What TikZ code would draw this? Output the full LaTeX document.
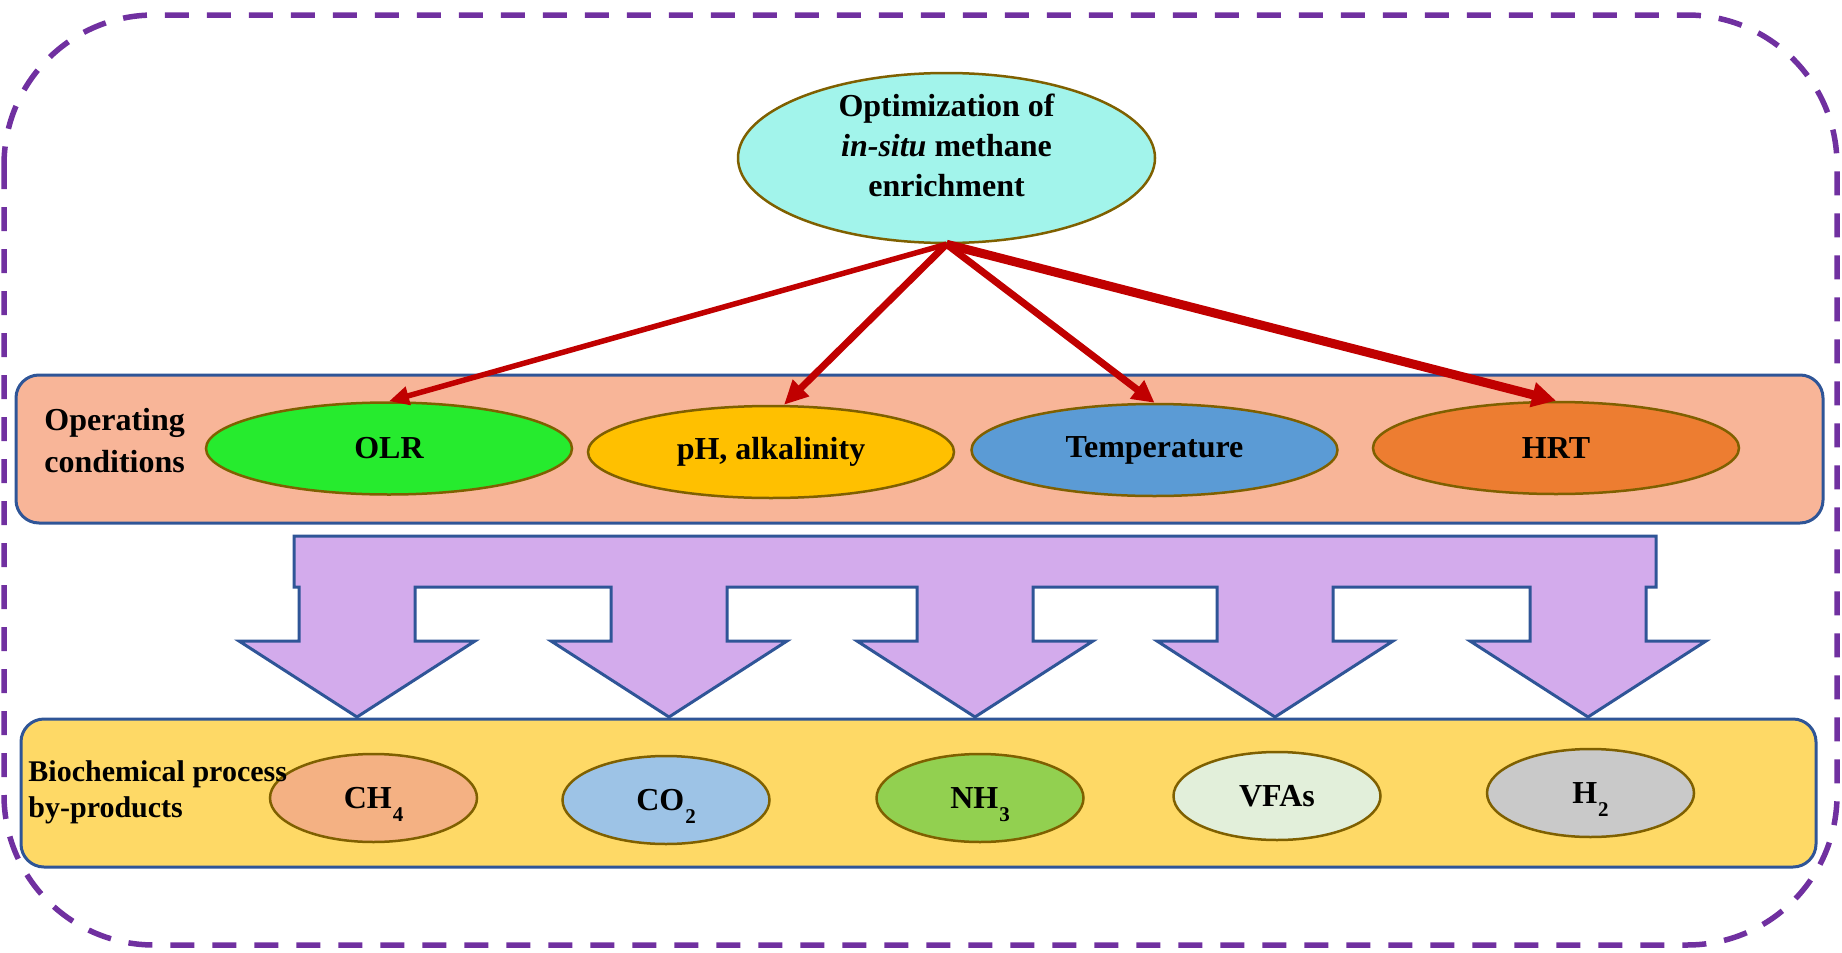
\documentclass[tikz,border=0pt]{standalone}
\usepackage{fontspec}
\setmainfont{Liberation Serif}
\usetikzlibrary{arrows.meta,shapes.geometric}
\definecolor{framepurple}{HTML}{7030A0}
\definecolor{bandblue}{HTML}{2F5597}
\definecolor{ovalbrown}{HTML}{7F6000}
\definecolor{arrowred}{HTML}{C00000}
\definecolor{topcyan}{HTML}{A2F4EB}
\definecolor{opfill}{HTML}{F8B598}
\definecolor{olrgreen}{HTML}{26EB2E}
\definecolor{phyellow}{HTML}{FFC000}
\definecolor{tempblue}{HTML}{5B9BD5}
\definecolor{hrtorange}{HTML}{ED7D31}
\definecolor{lavender}{HTML}{D3ABEC}
\definecolor{biofill}{HTML}{FED966}
\definecolor{chfill}{HTML}{F4B183}
\definecolor{cofill}{HTML}{9DC3E6}
\definecolor{nhfill}{HTML}{92D050}
\definecolor{vfafill}{HTML}{E2EFDA}
\definecolor{hfill}{HTML}{C9C9C9}
\newcommand\chemsub[1]{\smash{\raisebox{-6.5pt}{\fontsize{10.5}{10.5}\selectfont #1}}}
\tikzset{
  outerframe/.style={draw=framepurple, line width=2.75pt, dash pattern=on 12pt off 9pt, rounded corners=75pt},
  band/.style={rectangle, draw=bandblue, line width=1.5pt, rounded corners=11.5pt, inner sep=0pt},
  oval/.style={ellipse, draw=ovalbrown, line width=1.25pt, inner sep=0pt, font=\bfseries\fontsize{16}{20}\selectfont},
  opoval/.style={oval, minimum width=183pt, minimum height=46pt},
  byoval/.style={oval, minimum width=103.5pt, minimum height=44pt},
  redline/.style={draw=arrowred, line cap=butt},
  bigarrow/.style={draw=bandblue, fill=lavender, line width=1.5pt, line join=miter},
  sidelabel/.style={inner sep=0pt, align=left, anchor=west, font=\bfseries\fontsize{16}{21}\selectfont},
  sidelabelsmall/.style={inner sep=0pt, align=left, anchor=west, font=\bfseries\fontsize{15}{18}\selectfont}
}
\begin{document}
\begin{tikzpicture}[x=0.5pt,y=-0.5pt]
\useasboundingbox (0,0) rectangle (1842,953);
% outer dashed frame
\draw[outerframe] (4,15) rectangle (1837,945);

% top ellipse
\node[oval, fill=topcyan, minimum width=208.5pt, minimum height=85pt] (top) at (946.5,158) {};
\node[inner sep=0pt, align=center, font=\bfseries\fontsize{16}{20}\selectfont] (toptext) at (946.5,145) {Optimization of\\\textit{in-situ} methane\\enrichment};

% operating conditions band
\node[band, fill=opfill, minimum width=903.5pt, minimum height=74pt] (opbox) at (919.5,449) {};
\node[opoval, fill=olrgreen] (olr) at (389,448.5) {OLR};
\node[opoval, fill=phyellow] (ph) at (771,452) {pH, alkalinity};
\node[opoval, fill=tempblue] (temp) at (1154.5,450) {Temperature};
\node[opoval, fill=hrtorange] (hrt) at (1556,448) {HRT};
\node[sidelabel] (optext) at (44,441) {Operating\\conditions};

% red arrows
\draw[redline, line width=2.75pt, -{Triangle[length=10pt,width=9pt]}] (top.south) -- (olr.north);
\draw[redline, line width=3.5pt, -{Triangle[length=12pt,width=11pt]}] (top.south) -- ([xshift=6.5pt]ph.north);
\draw[redline, line width=3.5pt, -{Triangle[length=11pt,width=11pt]}] (top.south) -- (temp.north);
\draw[redline, line width=4.5pt, -{Triangle[length=12pt,width=12pt]}] (top.south) -- (hrt.north);

% big lavender distribution arrow
\draw[bigarrow] (294,536) -- (1656,536) -- (1656,587) -- (1646,587)
  -- (1646,641) -- (1706,641) -- (1588,717) -- (1470,641) -- (1530,641) -- (1530,587)
  -- (1333,587) -- (1333,641) -- (1393,641) -- (1275,717) -- (1157,641) -- (1217,641) -- (1217,587)
  -- (1033,587) -- (1033,641) -- (1093,641) -- (975,717) -- (857,641) -- (917,641) -- (917,587)
  -- (727,587) -- (727,641) -- (787,641) -- (669,717) -- (551,641) -- (611,641) -- (611,587)
  -- (415,587) -- (415,641) -- (475,641) -- (357,717) -- (239,641) -- (299,641) -- (299,587)
  -- (294,587) -- cycle;

% by-products band
\node[band, fill=biofill, minimum width=897.5pt, minimum height=74pt] (biobox) at (918.5,793) {};
\node[byoval, fill=chfill] (ch4) at (373.5,798) {CH\kern0.5pt\chemsub{4}};
\node[byoval, fill=cofill] (co2) at (666,800) {CO\kern0.5pt\chemsub{2}};
\node[byoval, fill=nhfill] (nh3) at (980,798) {NH\kern0.5pt\chemsub{3}};
\node[byoval, fill=vfafill] (vfa) at (1277,796) {VFAs};
\node[byoval, fill=hfill] (h2) at (1590.5,793) {H\kern0.5pt\chemsub{2}};
\node[sidelabelsmall] (biotext) at (28,792) {Biochemical process\\by-products};
\end{tikzpicture}
\end{document}
